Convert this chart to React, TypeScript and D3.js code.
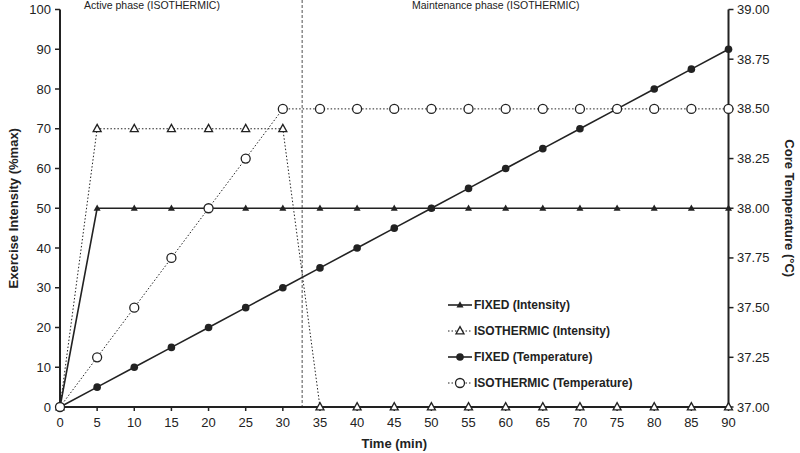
import React from "react";
import * as d3 from "d3";

const times = [0, 5, 10, 15, 20, 25, 30, 35, 40, 45, 50, 55, 60, 65, 70, 75, 80, 85, 90];
const fixedIntensity = [0, 50, 50, 50, 50, 50, 50, 50, 50, 50, 50, 50, 50, 50, 50, 50, 50, 50, 50];
const isoIntensity = [0, 70, 70, 70, 70, 70, 70, 0, 0, 0, 0, 0, 0, 0, 0, 0, 0, 0, 0];
const fixedTemp = [37.0, 37.1, 37.2, 37.3, 37.4, 37.5, 37.6, 37.7, 37.8, 37.9, 38.0, 38.1, 38.2, 38.3, 38.4, 38.5, 38.6, 38.7, 38.8];
const isoTemp = [37.0, 37.25, 37.5, 37.75, 38.0, 38.25, 38.5, 38.5, 38.5, 38.5, 38.5, 38.5, 38.5, 38.5, 38.5, 38.5, 38.5, 38.5, 38.5];
const leftTicks = [0, 10, 20, 30, 40, 50, 60, 70, 80, 90, 100];
const rightTicks = [37.0, 37.25, 37.5, 37.75, 38.0, 38.25, 38.5, 38.75, 39.0];
const phaseBoundary = 32.6;
const legendLabels = ["FIXED (Intensity)", "ISOTHERMIC (Intensity)", "FIXED (Temperature)", "ISOTHERMIC (Temperature)"];

const W = 800, H = 453;
const x = d3.scaleLinear().domain([0, 90]).range([60, 728.5]);
const yL = d3.scaleLinear().domain([0, 100]).range([407, 9.5]);
const yR = d3.scaleLinear().domain([37, 39]).range([407, 9.5]);
const FONT = "Liberation Sans, Arial, sans-serif";

function tri(cx: number, cy: number, s: number) {
  const h = s * 0.9;
  return `M${cx},${cy - h * 0.6}L${cx + s / 2},${cy + h * 0.4}L${cx - s / 2},${cy + h * 0.4}Z`;
}

export default function App() {
  const lineL = (vals: number[]) => d3.line<number>().x((_, i) => x(times[i])).y((v) => yL(v))(vals) as string;
  const lineR = (vals: number[]) => d3.line<number>().x((_, i) => x(times[i])).y((v) => yR(v))(vals) as string;

  const legendX = 448;
  const legendY = [305, 331, 357, 383];

  return (
    <svg width={W} height={H} style={{ position: "absolute", left: 0, top: 0, background: "#fff" }} fontFamily={FONT}>
      <rect width={W} height={H} fill="#fff" />
      {/* phase divider */}
      <line x1={x(phaseBoundary)} x2={x(phaseBoundary)} y1={0} y2={yL(0)} stroke="#222" strokeWidth={0.8} strokeDasharray="3,2" />
      <text x={84} y={9} fontSize={10.5} fill="#222">Active phase (ISOTHERMIC)</text>
      <text x={412} y={9} fontSize={10.5} fill="#222">Maintenance phase (ISOTHERMIC)</text>

      {/* series lines */}
      <path d={lineR(isoTemp)} fill="none" stroke="#222" strokeWidth={1} strokeDasharray="1.5,2" />
      <path d={lineL(isoIntensity)} fill="none" stroke="#222" strokeWidth={1} strokeDasharray="1.5,2" />
      <path d={lineR(fixedTemp)} fill="none" stroke="#222" strokeWidth={1.6} />
      <path d={lineL(fixedIntensity)} fill="none" stroke="#222" strokeWidth={1.6} />

      {/* axes */}
      <line x1={x(0)} x2={x(0)} y1={yL(100)} y2={yL(0)} stroke="#222" strokeWidth={2} />
      <line x1={x(90)} x2={x(90)} y1={yR(39)} y2={yR(37)} stroke="#222" strokeWidth={2} />
      <line x1={x(0)} x2={x(90)} y1={yL(0)} y2={yL(0)} stroke="#222" strokeWidth={2} />
      {leftTicks.map((t) => (
        <g key={"l" + t}>
          <line x1={x(0) - 5} x2={x(0)} y1={yL(t)} y2={yL(t)} stroke="#222" strokeWidth={1.5} />
          <text x={51} y={yL(t)} dy="0.35em" textAnchor="end" fontSize={13} fill="#222">{t}</text>
        </g>
      ))}
      {rightTicks.map((t) => (
        <g key={"r" + t}>
          <line x1={x(90)} x2={x(90) + 5} y1={yR(t)} y2={yR(t)} stroke="#222" strokeWidth={1.5} />
          <text x={737} y={yR(t)} dy="0.35em" textAnchor="start" fontSize={13} fill="#222">{t.toFixed(2)}</text>
        </g>
      ))}
      {times.map((t) => (
        <g key={"x" + t}>
          <line x1={x(t)} x2={x(t)} y1={yL(0)} y2={yL(0) + 4} stroke="#222" strokeWidth={1.5} />
          <text x={x(t)} y={427} textAnchor="middle" fontSize={13} fill="#222">{t}</text>
        </g>
      ))}
      <text x={x(45)} y={448} textAnchor="middle" fontSize={13} fontWeight="bold" fill="#222">Time (min)</text>
      <text transform={`translate(18,${yL(50)}) rotate(-90)`} textAnchor="middle" fontSize={13} fontWeight="bold" fill="#222">Exercise Intensity (%max)</text>
      <text transform={`translate(785,${yR(38)}) rotate(90)`} textAnchor="middle" fontSize={13} fontWeight="bold" fill="#222">Core Temperature (°C)</text>

      {/* markers */}
      {fixedIntensity.map((v, i) => (
        <path key={"fi" + i} d={tri(x(times[i]), yL(v), 7)} fill="#222" />
      ))}
      {isoIntensity.map((v, i) => (
        <path key={"ii" + i} d={tri(x(times[i]), yL(v), 8)} fill="#fff" stroke="#222" strokeWidth={1.3} />
      ))}
      {fixedTemp.map((v, i) => (
        <circle key={"ft" + i} cx={x(times[i])} cy={yR(v)} r={3.8} fill="#222" />
      ))}
      {isoTemp.map((v, i) => (
        <circle key={"it" + i} cx={x(times[i])} cy={yR(v)} r={4.5} fill="#fff" stroke="#222" strokeWidth={1.3} />
      ))}

      {/* legend */}
      {legendLabels.map((lab, i) => {
        const cy = legendY[i];
        const dotted = i % 2 === 1;
        const cx = legendX + 12;
        return (
          <g key={"lg" + i}>
            <line x1={legendX} x2={legendX + 24} y1={cy} y2={cy} stroke="#222" strokeWidth={dotted ? 1 : 1.6} strokeDasharray={dotted ? "1.5,2" : undefined} />
            {i === 0 && <path d={tri(cx, cy, 7)} fill="#222" />}
            {i === 1 && <path d={tri(cx, cy, 8)} fill="#fff" stroke="#222" strokeWidth={1.3} />}
            {i === 2 && <circle cx={cx} cy={cy} r={3.8} fill="#222" />}
            {i === 3 && <circle cx={cx} cy={cy} r={4.5} fill="#fff" stroke="#222" strokeWidth={1.3} />}
            <text x={legendX + 26} y={cy} dy="0.35em" fontSize={12} fontWeight="bold" fill="#222">{lab}</text>
          </g>
        );
      })}
    </svg>
  );
}
